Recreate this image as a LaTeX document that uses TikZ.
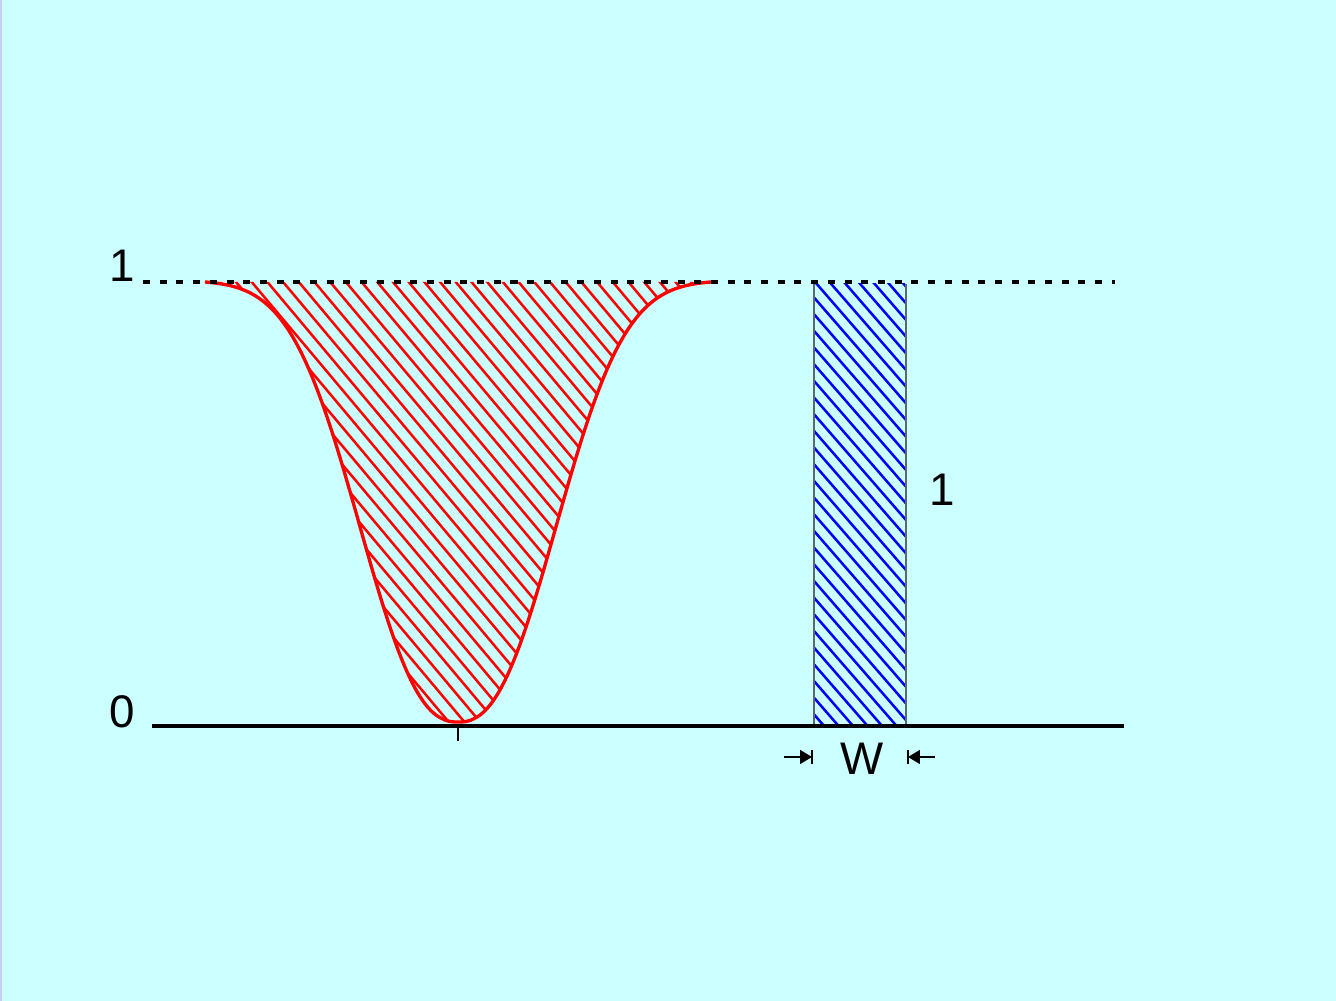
\documentclass[tikz,border=0pt]{standalone}
\usepackage{fontspec}
\setmainfont{Liberation Sans}
\usetikzlibrary{arrows.meta}
\definecolor{bg}{HTML}{CCFFFF}
\definecolor{edge}{HTML}{C8CCFF}
\definecolor{boxgray}{HTML}{5A6A6A}
\begin{document}
\begin{tikzpicture}[x=0.01cm,y=-0.01cm,
  lbl/.style={font=\fontsize{13}{15}\selectfont, inner sep=0pt},
  redhatch/.style={red, line width=0.72pt},
  bluehatch/.style={blue, line width=0.72pt},
  curve/.style={red, line width=0.95pt},
  level/.style={black, line width=1.05pt, dash pattern=on 2pt off 2.75pt},
  axis/.style={black, line width=0.95pt},
  dimarrow/.style={line width=0.65pt, -{Triangle[length=3.4pt,width=3.9pt]}},
  dimbar/.style={line width=0.65pt}]
\fill[bg] (0,0) rectangle (1336,1001);
\fill[edge] (0,0) rectangle (2,1001);
\useasboundingbox (0,0) rectangle (1336,1001);
% red hatched dip
\def\dip{plot[domain=-2.53:2.53, samples=161, smooth] ({458+100*\x},{282+440*(exp(-pow(abs(\x)/1.225+0.0001,2.41))-0.0032)/(1-0.0032)})}
\begin{scope}
  \clip \dip -- cycle;
  \foreach \k in {-13,...,30} {
    \draw[redhatch] ({250+15.7*\k},280) -- ++(400,476);
  }
\end{scope}
\draw[curve] \dip;
% blue hatched rectangle
\begin{scope}
  \clip (814,284) rectangle (906,724);
  \foreach \k in {-28,...,7} {
    \draw[bluehatch] ({815+14.5*\k},282) -- ++(400,460);
  }
\end{scope}
\draw[boxgray, line width=0.5pt] (814,724) -- (814,284) (906,284) -- (906,724);
% level lines
\coordinate (dl) at (143,282);
\coordinate (dr) at (1115,282);
\draw[level] (dl) -- (dr);
\coordinate (al) at (152,726);
\coordinate (ar) at (1124,726);
\draw[axis] (al) -- (ar);
\coordinate (tk0) at (458,726);
\coordinate (tk1) at (458,741);
\draw[black, line width=0.35pt] (tk0) -- (tk1);
% labels
\node[lbl] (one) at (122,266) {1};
\node[lbl] (zero) at (122,712) {0};
\node[lbl] (hone) at (942,490) {1};
\node[lbl] (w) at (862,759) {W};
% width arrows
\coordinate (wla) at (784,757);
\coordinate (wlb) at (812,757);
\coordinate (wra) at (935,757);
\coordinate (wrb) at (908,757);
\draw[dimarrow] (wla) -- (wlb);
\draw[dimbar] ([yshift=-2.1pt]wlb) -- ([yshift=2.1pt]wlb);
\draw[dimarrow] (wra) -- (wrb);
\draw[dimbar] ([yshift=-2.1pt]wrb) -- ([yshift=2.1pt]wrb);
\end{tikzpicture}
\end{document}
